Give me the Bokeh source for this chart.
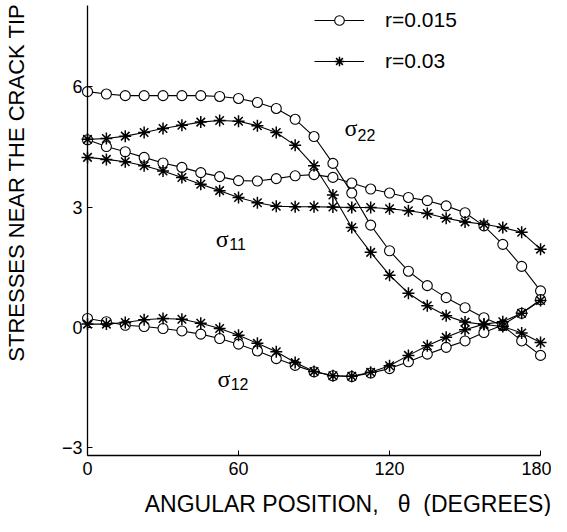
import math
from bokeh.plotting import figure
from bokeh.models import Range1d, Label, Legend, LegendItem, FixedTicker
from bokeh.embed import file_html
from bokeh.resources import INLINE

# ---- data ----
theta = [0, 7.5, 15, 22.5, 30, 37.5, 45, 52.5, 60, 67.5, 75, 82.5, 90,
         97.5, 105, 112.5, 120, 127.5, 135, 142.5, 150, 157.5, 165, 172.5, 180]

# r = 0.015 (circles)
s22_r015 = [5.88, 5.82, 5.78, 5.78, 5.78, 5.78, 5.78, 5.76, 5.71, 5.61, 5.46, 5.19, 4.76,
            4.09, 3.35, 2.55, 1.91, 1.40, 1.04, 0.74, 0.49, 0.24, 0.04, -0.34, -0.70]
s11_r015 = [4.68, 4.51, 4.38, 4.24, 4.10, 3.99, 3.86, 3.76, 3.66, 3.65, 3.71, 3.78, 3.81,
            3.74, 3.60, 3.45, 3.35, 3.24, 3.16, 3.03, 2.86, 2.53, 2.07, 1.52, 0.91]
s12_r015 = [0.22, 0.14, 0.05, 0.02, -0.03, -0.09, -0.17, -0.28, -0.42, -0.59, -0.78, -0.95, -1.11,
            -1.21, -1.23, -1.14, -1.03, -0.86, -0.67, -0.50, -0.34, -0.13, 0.06, 0.35, 0.69]

# r = 0.03 (stars)
s22_r03 = [4.69, 4.71, 4.77, 4.86, 4.96, 5.04, 5.12, 5.16, 5.14, 5.03, 4.86, 4.54, 4.03,
           3.30, 2.49, 1.87, 1.30, 0.85, 0.54, 0.29, 0.13, 0.07, 0.02, -0.14, -0.38]
s11_r03 = [4.24, 4.19, 4.13, 4.03, 3.90, 3.74, 3.57, 3.41, 3.24, 3.11, 3.02, 3.01, 3.01,
           3.00, 2.99, 2.99, 2.96, 2.91, 2.84, 2.72, 2.63, 2.57, 2.49, 2.37, 1.95]
s12_r03 = [0.08, 0.08, 0.12, 0.19, 0.22, 0.20, 0.10, -0.03, -0.20, -0.40, -0.61, -0.88, -1.10,
           -1.21, -1.22, -1.12, -0.96, -0.70, -0.46, -0.25, -0.06, 0.08, 0.14, 0.35, 0.67]

series_labels = ["r=0.015", "r=0.03"]
x_ticks = [0, 60, 120, 180]
y_ticks = [-3, 0, 3, 6]
x_bounds = (0, 180)
y_bounds = (-3.2, 8.03)
x_label = "ANGULAR POSITION,\u00a0\u00a0\u00a0\u03b8\u00a0\u00a0(DEGREES)"
y_label = "STRESSES NEAR THE CRACK TIP"

# curve annotations (sigma + subscript)
sig_subs = ["22", "11", "12"]
sig_x = [102.1, 51.0, 51.6]
sig_y = [4.98, 2.20, -1.28]
sub_x = [107.3, 56.3, 56.9]
sub_y = [4.79, 2.07, -1.42]

# ---- figure: frame fills canvas, axes are placed at fixed data locations ----
p = figure(width=551, height=516, output_backend="svg", toolbar_location=None,
           x_range=Range1d(-34.57, 184.35), y_range=Range1d(-4.72, 8.154),
           min_border_left=0, min_border_right=0, min_border_top=0, min_border_bottom=0)
p.outline_line_color = None
p.grid.visible = False
p.background_fill_color = "white"

p.xaxis.ticker = FixedTicker(ticks=x_ticks)
p.yaxis.ticker = FixedTicker(ticks=y_ticks)
p.yaxis.major_label_overrides = {-3: "\u22123"}
p.xaxis.fixed_location = y_bounds[0]
p.yaxis.fixed_location = x_bounds[0]
p.xaxis.bounds = x_bounds
p.yaxis.bounds = y_bounds
for ax in (p.xaxis[0], p.yaxis[0]):
    ax.major_tick_in = 5
    ax.major_tick_out = 0
    ax.minor_tick_line_color = None
    ax.axis_line_width = 1.3
    ax.axis_line_color = "black"
    ax.major_tick_line_color = "black"
    ax.major_label_text_font = "Liberation Sans"
    ax.major_label_text_font_size = "18px"
    ax.major_label_text_color = "black"
p.xaxis.major_label_standoff = 6
p.yaxis.major_label_standoff = 5

circ_rs = []
star_rs = []
for ys in (s22_r015, s11_r015, s12_r015):
    l = p.line(theta, ys, line_color="black", line_width=1.1)
    s = p.scatter(theta, ys, marker="circle", size=10, fill_color="white",
                  line_color="black", line_width=1.1)
    circ_rs.append((l, s))
for ys in (s22_r03, s11_r03, s12_r03):
    l = p.line(theta, ys, line_color="black", line_width=1.1)
    s = p.scatter(theta, ys, marker="asterisk", size=12,
                  line_color="black", line_width=1.5)
    star_rs.append((l, s))

legend = Legend(items=[
    LegendItem(label=series_labels[0], renderers=list(circ_rs[0])),
    LegendItem(label=series_labels[1], renderers=list(star_rs[0])),
], location=(314, 443), border_line_color=None, background_fill_alpha=0,
   padding=0, margin=0, spacing=17, glyph_width=50, glyph_height=24,
   label_height=24, label_standoff=21,
   label_text_font="Liberation Sans", label_text_font_size="21px",
   label_text_color="black")
p.add_layout(legend)

for i in range(3):
    p.add_layout(Label(x=sig_x[i], y=sig_y[i], text="\u03c3", text_font="Liberation Serif",
                       text_font_size="24px", text_color="black",
                       text_align="left", text_baseline="alphabetic"))
    p.add_layout(Label(x=sub_x[i], y=sub_y[i], text=sig_subs[i], text_font="Liberation Sans",
                       text_font_size="16px", text_color="black",
                       text_align="left", text_baseline="alphabetic"))

p.add_layout(Label(x=184.2, y=-4.42, text=x_label,
                   text_font="Liberation Sans", text_font_size="23px", text_color="black",
                   text_align="right", text_baseline="middle"))
p.add_layout(Label(x=-28.2, y=3.61, text=y_label, angle=math.pi / 2,
                   text_font="Liberation Sans", text_font_size="22px", text_color="black",
                   text_align="center", text_baseline="middle"))

open("out.html", "w").write(file_html(p, INLINE))
